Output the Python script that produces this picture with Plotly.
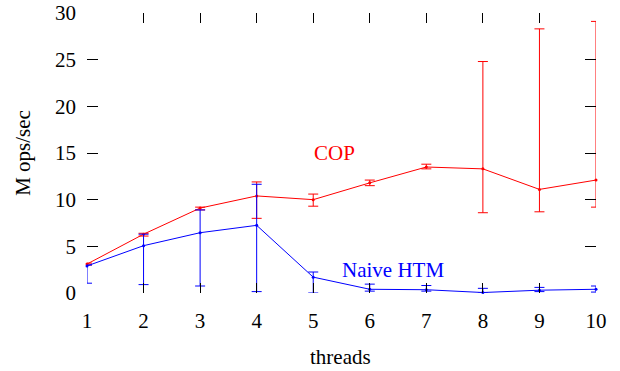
import plotly.graph_objects as go

threads = [1, 2, 3, 4, 5, 6, 7, 8, 9, 10]

cop_mean = [3.1, 6.3, 9.1, 10.4, 10.0, 11.8, 13.5, 13.3, 11.1, 12.1]
cop_low = [3.0, 6.1, 8.9, 8.0, 9.3, 11.5, 13.3, 8.6, 8.7, 9.2]
cop_high = [3.2, 6.4, 9.2, 11.9, 10.6, 12.1, 13.8, 24.8, 28.3, 29.1]

htm_mean = [2.9, 5.07, 6.46, 7.25, 1.7, 0.4, 0.35, 0.05, 0.3, 0.4]
htm_low = [1.05, 0.9, 0.75, 0.15, 0.0, 0.2, 0.2, 0.0, 0.15, 0.1]
htm_high = [3.0, 6.3, 8.9, 11.65, 2.25, 0.95, 0.8, 0.5, 0.6, 0.75]

x_ticks = [1, 2, 3, 4, 5, 6, 7, 8, 9, 10]
y_ticks = [0, 5, 10, 15, 20, 25, 30]

FONT = "Liberation Serif"
FS = 21


def series(mean, low, high, color, name):
    return go.Scatter(
        x=threads, y=mean, name=name, mode="lines+markers",
        line=dict(color=color, width=1),
        marker=dict(color=color, size=3),
        error_y=dict(type="data", symmetric=False,
                     array=[h - m for h, m in zip(high, mean)],
                     arrayminus=[m - l for m, l in zip(mean, low)],
                     color=color, thickness=1, width=5),
        showlegend=False, cliponaxis=False,
    )


fig = go.Figure()
fig.add_trace(series(cop_mean, cop_low, cop_high, "#ff0000", "COP"))
fig.add_trace(series(htm_mean, htm_low, htm_high, "#0000ff", "Naive HTM"))

fig.add_annotation(x=5.37, y=15.0, text="COP", showarrow=False,
                   font=dict(family=FONT, size=FS, color="#ff0000"))
fig.add_annotation(x=6.41, y=2.46, text="Naive HTM", showarrow=False,
                   font=dict(family=FONT, size=FS, color="#0000ff"))

# axis titles
fig.add_annotation(xref="paper", yref="paper", x=0.499, y=-0.229, yanchor="middle",
                   text="threads", showarrow=False,
                   font=dict(family=FONT, size=FS, color="black"))
fig.add_annotation(xref="paper", yref="paper", x=-0.126, y=0.5, xanchor="center",
                   text="M ops/sec", textangle=-90, showarrow=False,
                   font=dict(family=FONT, size=FS, color="black"))

fig.update_layout(
    width=620, height=371,
    margin=dict(l=87, r=24, t=13, b=78, autoexpand=False),
    paper_bgcolor="white", plot_bgcolor="white",
    font=dict(family=FONT, size=FS, color="black"),
    xaxis=dict(range=[1, 10], tickvals=x_ticks, ticks="inside", ticklen=10,
               tickwidth=1, tickcolor="black", mirror="ticks", showline=False,
               showgrid=False, zeroline=False, automargin=False,
               ticklabelstandoff=13),
    yaxis=dict(range=[0, 30], tickvals=y_ticks, ticks="inside", ticklen=11,
               tickwidth=1, tickcolor="black", mirror="ticks", showline=False,
               showgrid=False, zeroline=False, automargin=False,
               ticklabelstandoff=10),
)

fig.write_html("out.html")
